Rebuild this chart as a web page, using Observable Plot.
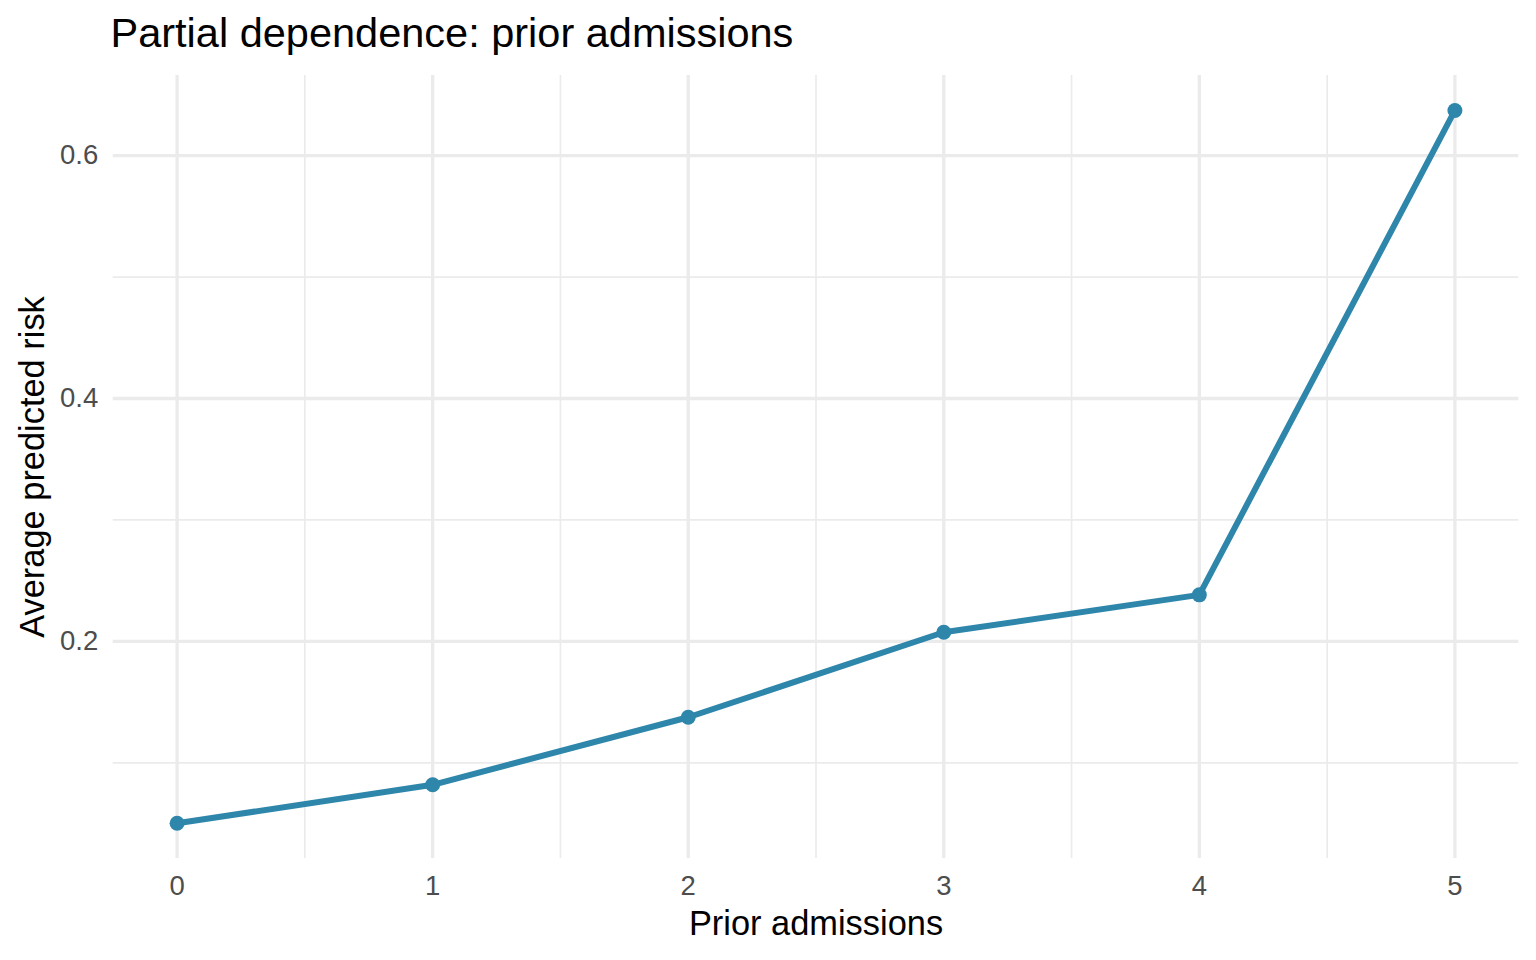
<!DOCTYPE html>
<html>
<head>
<meta charset="utf-8">
<script src="https://cdn.jsdelivr.net/npm/d3@7"></script>
<script src="https://cdn.jsdelivr.net/npm/@observablehq/plot@0.6"></script>
<style>
  html, body { margin: 0; padding: 0; background: white; }
  #title {
    box-sizing: border-box;
    height: 60px;
    padding-top: 11.5px;
    padding-left: 110.5px;
    font-family: "Liberation Sans", Arial, sans-serif;
    font-size: 41.5px;
    line-height: 1;
    color: black;
    white-space: nowrap;
  }
  #chart svg { display: block; }
</style>
</head>
<body>
<div id="title">Partial dependence: prior admissions</div>
<div id="chart"></div>
<script>
const admissions = [0, 1, 2, 3, 4, 5];
const risk = [0.0502, 0.0819, 0.1375, 0.2075, 0.2383, 0.6372];
const xMajor = [0, 1, 2, 3, 4, 5];
const xMinor = [0.5, 1.5, 2.5, 3.5, 4.5];
const yMajor = [0.2, 0.4, 0.6];
const yMinor = [0.1, 0.3, 0.5];
const xTitle = "Prior admissions";
const yTitle = "Average predicted risk";

const data = admissions.map((a, i) => ({admissions: a, risk: risk[i]}));

const grid = "#ebebeb";
const lineColor = "#2e86ab";

const chart = Plot.plot({
  width: 1536,
  height: 900,
  marginTop: 15,
  marginBottom: 102,
  marginLeft: 112.7,
  marginRight: 17.7,
  x: {domain: [-0.25, 5.25]},
  y: {domain: [0.0212, 0.666]},
  style: {fontFamily: "'Liberation Sans', Arial, sans-serif", background: "white"},
  marks: [
    Plot.ruleY(yMinor, {stroke: grid, strokeWidth: 1.67}),
    Plot.ruleX(xMinor, {stroke: grid, strokeWidth: 1.67}),
    Plot.ruleY(yMajor, {stroke: grid, strokeWidth: 3.3}),
    Plot.ruleX(xMajor, {stroke: grid, strokeWidth: 3.3}),
    Plot.axisX(xMajor, {tickSize: 0, tickPadding: 17, fontSize: 27.5, color: "#4d4d4d", label: null, tickFormat: d3.format("d")}),
    Plot.axisY(yMajor, {tickSize: 0, tickPadding: 15, fontSize: 27.5, color: "#4d4d4d", label: null, tickFormat: d3.format(".1f")}),
    Plot.line(data, {x: "admissions", y: "risk", stroke: lineColor, strokeWidth: 6}),
    Plot.dot(data, {x: "admissions", y: "risk", r: 7.5, fill: lineColor, stroke: null}),
    Plot.text([xTitle], {text: d => d, frameAnchor: "bottom", lineAnchor: "bottom", dy: 76, fontSize: 34.4, fill: "black"}),
    Plot.text([yTitle], {text: d => d, frameAnchor: "left", textAnchor: "middle", rotate: -90, lineAnchor: "bottom", dx: -69.7, fontSize: 34.4, fill: "black"})
  ]
});
document.getElementById("chart").appendChild(chart);
</script>
</body>
</html>
